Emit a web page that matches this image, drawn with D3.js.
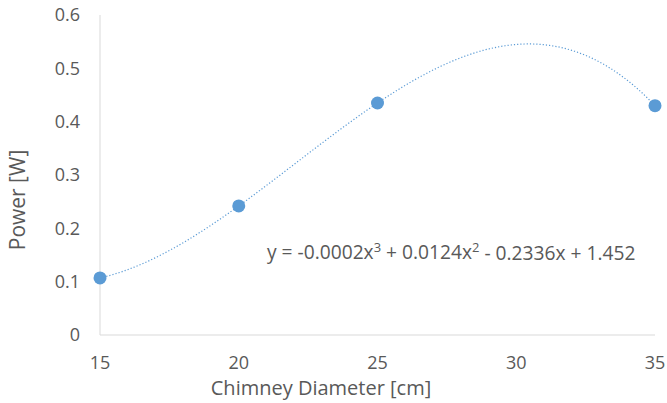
<!DOCTYPE html>
<html><head><meta charset="utf-8">
<script src="https://cdn.jsdelivr.net/npm/d3@7"></script>
<style>body{margin:0;background:#fff}svg{display:block}text{font-family:"Open Sans",sans-serif;fill:#595959}</style>
</head><body><svg id="c" width="667" height="403"></svg>
<script>
const diameters = [15, 20, 25, 35];
const power = [0.107, 0.242, 0.435, 0.430];
const xTicks = [15, 20, 25, 30, 35];
const yTicks = [0, 0.1, 0.2, 0.3, 0.4, 0.5, 0.6];
const equation = ["y = -0.0002x", "3", " + 0.0124x", "2", " - 0.2336x + 1.452"];

const svg = d3.select("#c");
const x = d3.scaleLinear().domain([15, 35]).range([100, 655]);
const y = d3.scaleLinear().domain([0, 0.6]).range([335, 15]);

// axis lines
svg.append("line").attr("x1", x(15)).attr("x2", x(35)).attr("y1", y(0)).attr("y2", y(0)).attr("stroke", "#d9d9d9").attr("stroke-width", 1);
svg.append("line").attr("x1", x(15)).attr("x2", x(15)).attr("y1", y(0)).attr("y2", y(0.6)).attr("stroke", "#d9d9d9").attr("stroke-width", 1);

// tick labels
svg.selectAll(".yt").data(yTicks).enter().append("text").attr("x", 80).attr("y", d => y(d)).attr("dy", "0.35em")
  .attr("text-anchor", "end").attr("font-size", 18).text(d => d === 0 ? "0" : d.toFixed(1));
svg.selectAll(".xt").data(xTicks).enter().append("text").attr("x", d => x(d)).attr("y", 363).attr("dy", "0.35em")
  .attr("text-anchor", "middle").attr("font-size", 18).text(d => d);

// axis titles
svg.append("text").attr("x", 321).attr("y", 388).attr("dy", "0.35em").attr("text-anchor", "middle").attr("font-size", 20).text("Chimney Diameter [cm]");
svg.append("text").attr("transform", "translate(18,200) rotate(-90)").attr("dy", "0.35em").attr("text-anchor", "middle").attr("font-size", 21).text("Power [W]");

// cubic trendline (exact fit through the 4 points via Lagrange)
function lagrange(t) {
  let s = 0;
  for (let i = 0; i < diameters.length; i++) {
    let p = power[i];
    for (let j = 0; j < diameters.length; j++) if (j !== i) p *= (t - diameters[j]) / (diameters[i] - diameters[j]);
    s += p;
  }
  return s;
}
const trend = d3.range(15, 35.001, 0.1).map(t => [t, lagrange(t)]);
svg.append("path").datum(trend).attr("fill", "none").attr("stroke", "#5b9bd5").attr("stroke-width", 1.2)
  .attr("stroke-dasharray", "1.2,2").attr("d", d3.line().x(d => x(d[0])).y(d => y(d[1])));

// points
svg.selectAll(".pt").data(diameters).enter().append("circle").attr("cx", d => x(d)).attr("cy", (d, i) => y(power[i]))
  .attr("r", 6.5).attr("fill", "#5b9bd5");

// equation
const eq = svg.append("text").attr("x", 267).attr("y", 252).attr("dy", "0.35em").attr("font-size", 19.2);
equation.forEach((s, i) => {
  const ts = eq.append("tspan").text(s);
  if (i % 2 === 1) ts.attr("font-size", 13).attr("dy", "-0.55em");
  else if (i > 0) ts.attr("dy", "0.4em");
});
</script></body></html>
